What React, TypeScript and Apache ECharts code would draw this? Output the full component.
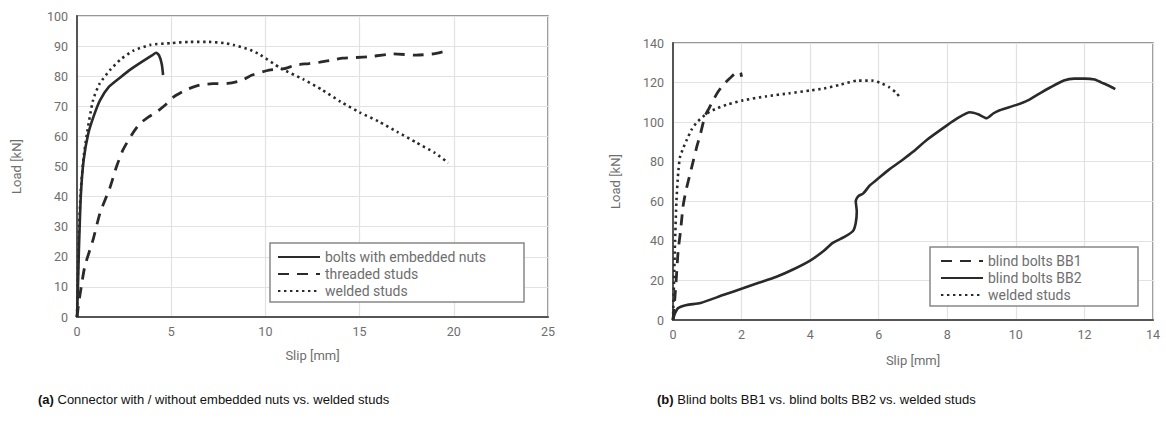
import React, { useEffect, useRef } from "react";
import * as echarts from "echarts";

// ---- (a) left chart data ----
const boltsNutsSlip = [0, 0.05, 0.1, 0.2, 0.35, 0.6, 0.9, 1.22, 1.7, 2.28, 2.9, 3.5, 4.0, 4.2, 4.35, 4.5, 4.57];
const boltsNutsLoad = [0, 10, 22, 40, 52, 61, 67, 72, 76.5, 79.5, 82.5, 85, 87, 87.8, 87, 84, 80.4];

const threadedSlip = [0, 0.1, 0.25, 0.42, 0.85, 1.22, 1.75, 2.1, 2.44, 2.9, 3.3, 3.8, 4.2, 4.7, 5.1, 5.8, 6.5, 7.2, 8, 8.7, 9.3, 10.2, 11, 11.6, 12.3, 12.9, 13.5, 14.1, 15.4, 16.8, 18, 19, 19.6];
const threadedLoad = [0, 5, 11, 17, 25.6, 34.5, 43, 50, 55.5, 60.5, 64, 66.5, 68, 70.5, 73, 75.5, 77, 77.5, 77.6, 78.5, 80.4, 82, 82.5, 83.7, 84.2, 84.7, 85.3, 86, 86.4, 87.4, 87, 87.5, 88.4];

const weldedASlip = [0, 0.05, 0.1, 0.2, 0.35, 0.53, 0.85, 1.2, 1.75, 2.3, 3, 3.9, 5, 6, 7, 7.8, 8.3, 9.2, 9.7, 10.8, 12, 13, 14, 15, 16, 17, 18, 19, 19.7];
const weldedALoad = [0, 15, 28, 42, 53, 61, 72, 77.5, 82, 85.5, 88.5, 90.4, 91, 91.4, 91.4, 91, 90.4, 88.7, 87.2, 82.7, 79, 75.5, 71.5, 68, 65, 61.5, 58, 54.5, 51.2];

// ---- (b) right chart data ----
const bb1Slip = [0, 0.05, 0.1, 0.15, 0.22, 0.29, 0.35, 0.4, 0.5, 0.6, 0.7, 0.8, 0.93, 1.05, 1.17, 1.3, 1.46, 1.65, 1.8, 1.9, 1.97, 2.0];
const bb1Load = [0, 10, 22, 35, 45, 57, 63, 67, 74, 81, 88, 94, 103, 107, 111, 115, 118.7, 122, 124.5, 125.5, 125, 123];

const bb2Slip = [0, 0.05, 0.15, 0.4, 0.8, 1.46, 2.04, 2.5, 3.0, 3.5, 4.0, 4.4, 4.66, 5.0, 5.25, 5.33, 5.36, 5.33, 5.4, 5.55, 5.74, 5.95, 6.3, 6.7, 7.0, 7.4, 8.0, 8.3, 8.66, 8.9, 9.15, 9.35, 9.53, 10.0, 10.35, 10.7, 11.0, 11.4, 11.7, 12.0, 12.3, 12.5, 12.7, 12.9];
const bb2Load = [0, 3, 6, 7.6, 8.6, 12.6, 16, 18.8, 21.7, 25.5, 30, 35, 39, 42, 45, 49, 55, 60, 62.5, 64, 68, 71, 76, 81, 85, 91, 98.5, 102, 105, 104, 102, 104.5, 106, 108.6, 111, 114.6, 117.5, 121, 122, 122, 121.5, 120, 118.5, 116.7];

const weldedBSlip = [0, 0.03, 0.06, 0.1, 0.15, 0.2, 0.3, 0.4, 0.55, 0.7, 1.0, 1.28, 1.6, 2.04, 2.7, 3.4, 4.0, 4.4, 4.9, 5.4, 5.8, 6.1, 6.3, 6.5, 6.6];
const weldedBLoad = [0, 20, 40, 60, 74, 82, 87, 91, 96.5, 100, 104.5, 107, 109, 111, 113, 114.6, 116, 117, 119, 121, 121, 119.5, 117.7, 115, 113];

const legendA = ["bolts with embedded nuts", "threaded studs", "welded studs"];
const legendB = ["blind bolts BB1", "blind bolts BB2", "welded studs"];

const captionA = ["(a)", " Connector with / without embedded nuts vs. welded studs"];
const captionB = ["(b)", " Blind bolts BB1 vs. blind bolts BB2 vs. welded studs"];

const pairs = (xs: number[], ys: number[]) => xs.map((x, i) => [x, ys[i]]);

const LINE = "#2a2a2a";
const FONT = "Roboto";
const GRAY = "#6e6e6e";

const solid = { color: LINE, width: 2.6, type: "solid" as any };
const dashed = { color: LINE, width: 2.8, type: [11, 8] as any };
const dotted = { color: LINE, width: 2.6, type: [2.4, 3.6] as any };

function axisX(gridIndex: number, max: number, interval: number, gap: number) {
  return {
    type: "value",
    gridIndex,
    min: 0,
    max,
    interval,
    name: "Slip [mm]",
    nameLocation: "middle",
    nameGap: gap,
    nameTextStyle: { color: GRAY, fontFamily: FONT, fontSize: 13 },
    axisLine: { show: true, onZero: false, lineStyle: { color: "#555", width: 2 } },
    axisTick: { show: false },
    axisLabel: { color: GRAY, fontFamily: FONT, fontSize: 12.5, margin: 8 },
    splitLine: { show: true, lineStyle: { color: "#e2e2e2", width: 1.2 } },
  };
}
function axisY(gridIndex: number, max: number, interval: number, gap: number) {
  return {
    type: "value",
    gridIndex,
    min: 0,
    max,
    interval,
    name: "Load [kN]",
    nameLocation: "middle",
    nameGap: gap,
    nameTextStyle: { color: GRAY, fontFamily: FONT, fontSize: 13 },
    axisLine: { show: true, lineStyle: { color: "#555", width: 2 } },
    axisTick: { show: false },
    axisLabel: { color: GRAY, fontFamily: FONT, fontSize: 12.5, margin: 9 },
    splitLine: { show: true, lineStyle: { color: "#e2e2e2", width: 1.2 } },
  };
}

function lineSeries(name: string, data: number[][], idx: number, style: any) {
  return {
    type: "line",
    name,
    xAxisIndex: idx,
    yAxisIndex: idx,
    data,
    showSymbol: false,
    symbol: "none",
    smooth: 0.2,
    lineStyle: style,
    itemStyle: { color: LINE },
  };
}

export default function App() {
  const ref = useRef<HTMLDivElement>(null);
  useEffect(() => {
    if (!ref.current) return;
    const chart = echarts.init(ref.current, undefined, { renderer: "svg" });
    const legendCommon = {
      orient: "vertical",
      itemWidth: 42,
      itemHeight: 14,
      itemGap: 3,
      selectedMode: false,
      itemStyle: { opacity: 0 },
      textStyle: { color: GRAY, fontFamily: FONT, fontSize: 14 },
      padding: 0,
    };
    chart.setOption({
      animation: false,
      backgroundColor: "#fff",
      grid: [
        { left: 77, top: 16, width: 471, height: 301, show: true, borderColor: "#777", borderWidth: 1.5 },
        { left: 673, top: 43, width: 480, height: 277, show: true, borderColor: "#777", borderWidth: 1.5 },
      ],
      xAxis: [axisX(0, 25, 5, 32), axisX(1, 14, 2, 34)],
      yAxis: [axisY(0, 100, 10, 54), axisY(1, 140, 20, 51)],
      legend: [
        { ...legendCommon, data: legendA, left: 277, top: 250, z: 6 },
        { ...legendCommon, data: legendB, left: 940, top: 254, z: 6 },
      ],
      graphic: [
        { type: "rect", z: 5, shape: { x: 270, y: 243, width: 254, height: 59 }, style: { fill: "#fff", stroke: "#888", lineWidth: 1.5 } },
        { type: "rect", z: 5, shape: { x: 930, y: 247, width: 208, height: 59 }, style: { fill: "#fff", stroke: "#888", lineWidth: 1.5 } },
        {
          type: "text",
          left: 38,
          top: 393,
          style: {
            text: `{b|${captionA[0]}}{n|${captionA[1]}}`,
            rich: {
              b: { fontWeight: "bold", fontFamily: "Liberation Sans", fontSize: 13, fill: "#111" },
              n: { fontFamily: "Liberation Sans", fontSize: 13, fill: "#111" },
            },
          },
        },
        {
          type: "text",
          left: 657,
          top: 393,
          style: {
            text: `{b|${captionB[0]}}{n|${captionB[1]}}`,
            rich: {
              b: { fontWeight: "bold", fontFamily: "Liberation Sans", fontSize: 13, fill: "#111" },
              n: { fontFamily: "Liberation Sans", fontSize: 13, fill: "#111" },
            },
          },
        },
      ],
      series: [
        lineSeries(legendA[0], pairs(boltsNutsSlip, boltsNutsLoad), 0, solid),
        lineSeries(legendA[1], pairs(threadedSlip, threadedLoad), 0, dashed),
        lineSeries(legendA[2], pairs(weldedASlip, weldedALoad), 0, dotted),
        lineSeries(legendB[0], pairs(bb1Slip, bb1Load), 1, dashed),
        lineSeries(legendB[1], pairs(bb2Slip, bb2Load), 1, solid),
        lineSeries(legendB[2], pairs(weldedBSlip, weldedBLoad), 1, dotted),
      ],
    });
    return () => chart.dispose();
  }, []);
  return <div ref={ref} style={{ position: "fixed", left: 0, top: 0, width: 1166, height: 423 }} />;
}
